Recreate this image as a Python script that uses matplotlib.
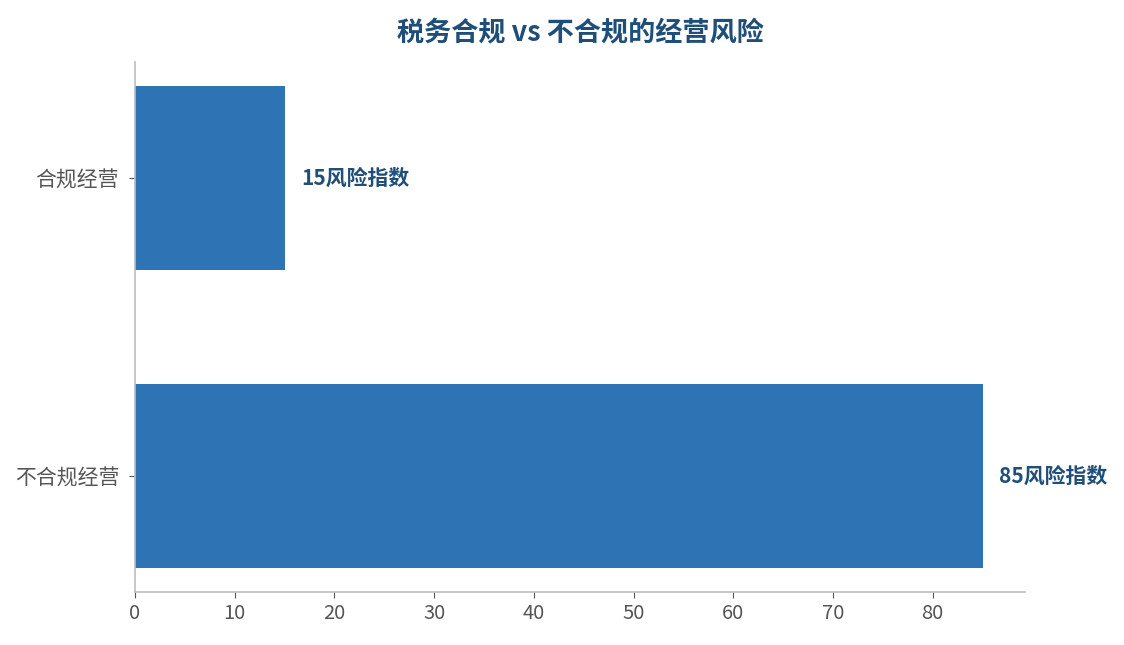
import matplotlib
matplotlib.use('Agg')
import matplotlib.pyplot as plt

plt.rcParams['font.family'] = ['Noto Sans CJK SC', 'DejaVu Sans']

# 数据
categories = ['不合规经营', '合规经营']
risk_values = [85, 15]
value_suffix = '风险指数'

bar_color = '#2E74B5'
title_color = '#1F4E79'
grey = '#BDBDBD'

fig = plt.figure(figsize=(11.24, 6.45), dpi=100)
ax = fig.add_axes([0.1201, 0.0822, 0.7918, 0.8217])

bars = ax.barh(categories, risk_values, height=0.62, color=bar_color)

for bar, val in zip(bars, risk_values):
    ax.annotate(f'{val}{value_suffix}',
                xy=(bar.get_width(), bar.get_y() + bar.get_height() / 2),
                xytext=(12, 0), textcoords='offset points',
                va='center', ha='left', fontsize=15, fontweight='bold',
                color=title_color)

ax.set_xlim(0, max(risk_values) * 1.05)
ax.set_ylim(-0.39, 1.39)

ax.set_title('税务合规 vs 不合规的经营风险', fontsize=19.5, fontweight='bold',
             color=title_color, pad=15)

for side in ['top', 'right']:
    ax.spines[side].set_visible(False)
for side in ['left', 'bottom']:
    ax.spines[side].set_color(grey)
    ax.spines[side].set_linewidth(1.2)

ax.tick_params(axis='both', colors='#555555', labelsize=14.5, length=4.5)
ax.tick_params(axis='y', labelsize=15, pad=7)

fig.savefig('out.png', dpi=100)
